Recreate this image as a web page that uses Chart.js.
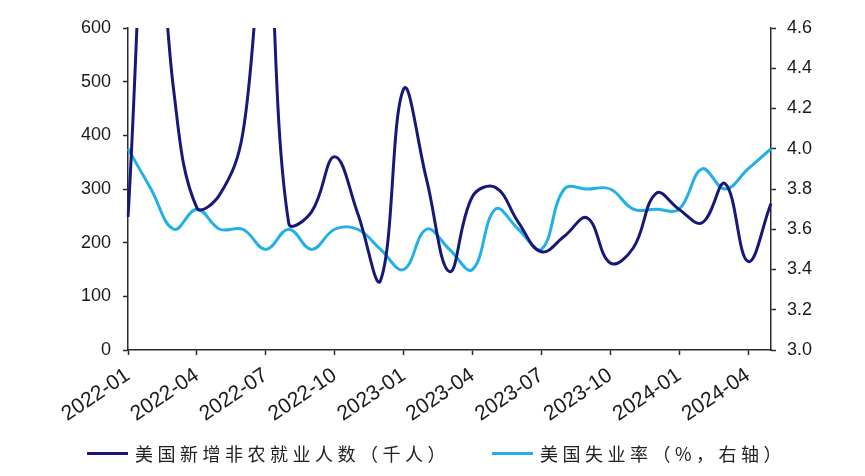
<!DOCTYPE html>
<html>
<head>
<meta charset="utf-8">
<script src="https://cdn.jsdelivr.net/npm/chart.js@4.4.1/dist/chart.umd.min.js"></script>
<style>
  html, body { margin: 0; padding: 0; background: #fff; }
  #wrap { position: relative; width: 865px; height: 476px; }
  .legend { position: absolute; top: 440px; height: 26px; display: flex; align-items: center;
            font-family: "Noto Sans CJK SC", sans-serif; font-size: 18px; color: #222;
            letter-spacing: 4.5px; white-space: nowrap; }
  .legend .ln { display: inline-block; width: 41px; height: 3px; margin-right: 7px; }
</style>
</head>
<body>
<div id="wrap">
  <canvas id="cv" width="865" height="476"></canvas>
  <div class="legend" style="left:87px"><span class="ln" style="background:#17187a"></span>美国新增非农就业人数（千人）</div>
  <div class="legend" style="left:492px"><span class="ln" style="background:#22b0e6"></span>美国失业率（%，右轴）</div>
</div>
<script>
// months shown on the x axis (every 3rd one gets a label)
const months = ['2022-01','2022-02','2022-03','2022-04','2022-05','2022-06','2022-07','2022-08','2022-09','2022-10','2022-11','2022-12',
                '2023-01','2023-02','2023-03','2023-04','2023-05','2023-06','2023-07','2023-08','2023-09','2023-10','2023-11','2023-12',
                '2024-01','2024-02','2024-03','2024-04','2024-05'];
// new nonfarm payrolls, thousands (left axis)
const payrolls = [248, 950, 480, 265, 290, 404, 800, 236, 258, 360, 255, 130,
                  486, 318, 146, 286, 303, 238, 183, 212, 246, 162, 190, 292,
                  262, 237, 310, 165, 273];
// unemployment rate, % (right axis)
const unemployment = [4.0, 3.8, 3.6, 3.7, 3.6, 3.6, 3.5, 3.6, 3.5, 3.6, 3.6, 3.5,
                      3.4, 3.6, 3.5, 3.4, 3.7, 3.6, 3.5, 3.8, 3.8, 3.8, 3.7, 3.7,
                      3.7, 3.9, 3.8, 3.9, 4.0];

const axisColor = '#2a2a2a';
const tickFont = { family: '"Liberation Sans", Arial, sans-serif', size: 18 };

const chart = new Chart(document.getElementById('cv'), {
  type: 'line',
  data: {
    labels: months,
    datasets: [{
      label: '美国新增非农就业人数（千人）',
      data: payrolls,
      borderColor: '#17187a',
      borderWidth: 3,
      pointRadius: 0,
      tension: 0.4,
      fill: false,
      yAxisID: 'y'
    }, {
      label: '美国失业率（%，右轴）',
      data: unemployment,
      borderColor: '#22b0e6',
      borderWidth: 3,
      pointRadius: 0,
      tension: 0.4,
      fill: false,
      yAxisID: 'y1'
    }]
  },
  options: {
    responsive: false,
    animation: false,
    devicePixelRatio: 1,
    layout: { padding: { top: 28, left: 0, right: 0, bottom: 0 } },
    plugins: {
      legend: { display: false },
      tooltip: { enabled: false }
    },
    scales: {
      x: {
        offset: false,
        afterFit: (s) => { s.height = 126; },
        border: { color: axisColor, width: 1.5 },
        grid: {
          drawOnChartArea: false,
          tickLength: 5,
          tickWidth: 1.5,
          tickColor: (ctx) => (ctx.index % 3 === 0 ? axisColor : 'rgba(0,0,0,0)')
        },
        ticks: {
          autoSkip: false,
          minRotation: 34,
          maxRotation: 34,
          padding: 8,
          color: '#1a1a1a',
          font: { family: '"Liberation Sans", Arial, sans-serif', size: 21 },
          callback: function (v, i) { return i % 3 === 0 ? months[i] : ''; }
        }
      },
      y: {
        position: 'left',
        min: 0,
        max: 600,
        afterFit: (s) => { s.width = 128; },
        border: { color: axisColor, width: 1.5 },
        grid: { drawOnChartArea: false, tickLength: 5, tickWidth: 1.5, tickColor: axisColor },
        ticks: { stepSize: 100, padding: 12, color: '#1a1a1a', font: tickFont }
      },
      y1: {
        position: 'right',
        min: 3.0,
        max: 4.6,
        afterFit: (s) => { s.width = 94; },
        border: { color: axisColor, width: 1.5 },
        grid: { drawOnChartArea: false, tickLength: 5, tickWidth: 1.5, tickColor: axisColor },
        ticks: {
          stepSize: 0.2,
          padding: 11,
          color: '#1a1a1a',
          font: tickFont,
          callback: (v) => Number(v).toFixed(1)
        }
      }
    }
  }
});
</script>
</body>
</html>
